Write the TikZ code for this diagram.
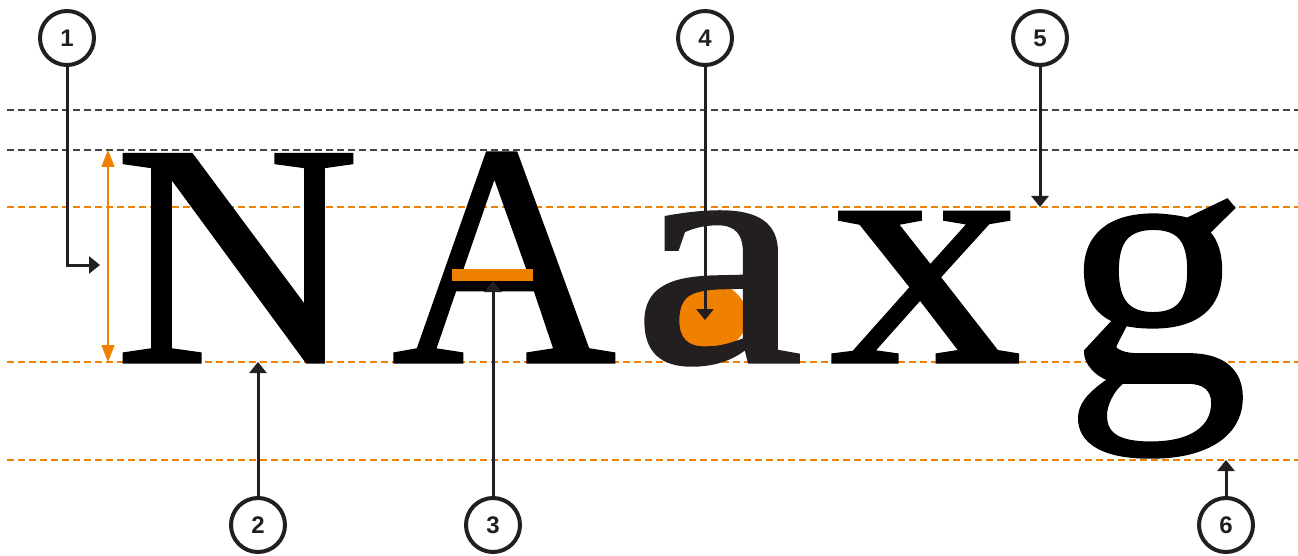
\documentclass[tikz,border=0pt]{standalone}
\usepackage{fontspec}
\setmainfont{Liberation Serif}
\newfontfamily\glyphfont[FakeBold=1]{Liberation Serif}
\newfontfamily\numfont{Liberation Sans}
\usetikzlibrary{arrows.meta}
\definecolor{ink}{HTML}{231F20}
\definecolor{orng}{HTML}{F08000}
\definecolor{guidegray}{HTML}{444444}
\begin{document}
\begin{tikzpicture}[x=1pt,y=-1pt,
 guide/.style={line width=1.8pt, dash pattern=on 7pt off 4pt},
 numcirc/.style={circle, draw=ink, line width=4pt, minimum size=54pt, inner sep=0pt, font=\numfont\bfseries\fontsize{24}{24}\selectfont, text=ink},
 callout/.style={draw=ink, line width=3pt, -{Triangle[length=11pt,width=17pt]}},
 glyph/.style={inner sep=0pt, anchor=base, font=\glyphfont\fontsize{320}{320}\selectfont}]
\useasboundingbox (0,0) rectangle (1298,556);
% guide lines
\draw[guide, guidegray] (7,110) -- (1298,110);
\draw[guide, guidegray] (7,150) -- (1298,150);
\draw[guide, orng] (7,207) -- (1298,207);
\draw[guide, orng] (7,362) -- (1298,362);
\draw[guide, orng] (7,460) -- (1298,460);
% orange counter of the a (shows through the glyph)
\fill[orng] (710,317) ellipse [x radius=37, y radius=34];
% glyphs
\node[glyph] (N) at (237,362) {\scalebox{1.06}[0.99]{N}};
\node[glyph] (A) at (504,362) {\scalebox{0.97}[0.99]{A}};
\node[glyph, text=ink] (a) at (718,362) {\scalebox{1.2}[1]{a}};
\node[glyph] (x) at (926,362) {\scalebox{1.2}[1.02]{x}};
\node[glyph] (g) at (1156,381) {\scalebox{1.15}[1.1]{g}};
% orange crossbar
\fill[orng] (452,269) rectangle (533,281);
% height arrow
\coordinate (ht) at (108,150);
\coordinate (hb) at (108,362);
\draw[orng, line width=2pt, {Triangle[length=17pt,width=13pt]}-{Triangle[length=17pt,width=13pt]}] (ht) -- (hb);
% callouts
\node[numcirc] (c1) at (67,38) {1};
\node[numcirc] (c2) at (258,525) {2};
\node[numcirc] (c3) at (493,525) {3};
\node[numcirc] (c4) at (705,38) {4};
\node[numcirc] (c5) at (1040,38) {5};
\node[numcirc] (c6) at (1226,525) {6};
\coordinate (t1) at (100,265);
\coordinate (t2) at (258,362);
\coordinate (t3) at (493,281);
\coordinate (t4) at (705,320);
\coordinate (t5) at (1040,207);
\coordinate (t6) at (1226,460);
\draw[callout] (c1.south) |- (t1);
\draw[callout] (c2.north) -- (t2);
\draw[callout] (c3.north) -- (t3);
\draw[callout] (c4.south) -- (t4);
\draw[callout] (c5.south) -- (t5);
\draw[callout] (c6.north) -- (t6);
\end{tikzpicture}
\end{document}
